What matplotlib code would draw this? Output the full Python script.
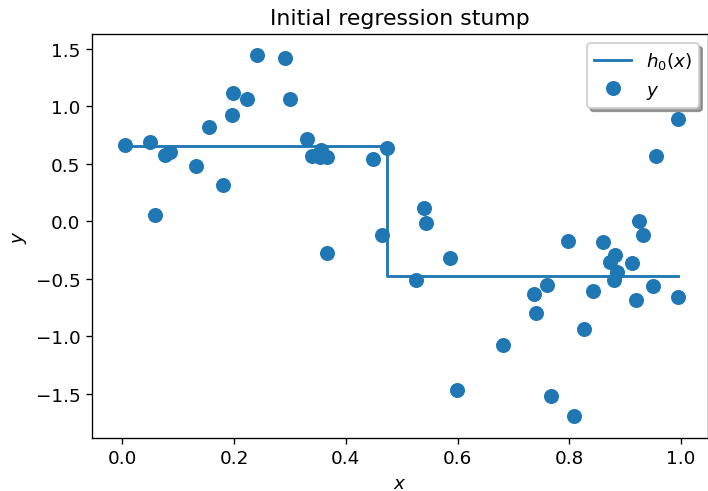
import matplotlib
matplotlib.use("Agg")
import matplotlib.pyplot as plt

# sample points
x = [0.005, 0.049, 0.058, 0.076, 0.086, 0.132, 0.156, 0.181, 0.196, 0.198,
     0.224, 0.241, 0.292, 0.301, 0.330, 0.340, 0.356, 0.354, 0.366, 0.367,
     0.449, 0.474, 0.465, 0.540, 0.543, 0.526, 0.587, 0.599, 0.681, 0.736,
     0.740, 0.760, 0.767, 0.798, 0.808, 0.827, 0.843, 0.861, 0.872, 0.882,
     0.879, 0.885, 0.912, 0.920, 0.925, 0.932, 0.950, 0.955, 0.994, 0.995]
y = [0.668, 0.689, 0.059, 0.578, 0.602, 0.483, 0.819, 0.320, 0.926, 1.115,
     1.065, 1.448, 1.424, 1.065, 0.717, 0.565, 0.624, 0.558, 0.558, -0.274,
     0.543, 0.639, -0.117, 0.117, -0.016, -0.506, -0.320, -1.471, -1.074, -0.633,
     -0.793, -0.555, -1.523, -0.170, -1.691, -0.935, -0.607, -0.181, -0.355, -0.291,
     -0.506, -0.437, -0.358, -0.683, 0.004, -0.117, -0.558, 0.572, 0.891, -0.659]

# stump: split point and the two leaf values
split = 0.474
left_val = 0.657
right_val = -0.474
stump_x = [min(x), split, split, max(x)]
stump_y = [left_val, left_val, right_val, right_val]

plt.rcParams["font.size"] = 11

fig = plt.figure(figsize=(5.9, 4.1), dpi=120)
ax = fig.add_axes([92/708, 1 - 438.5/492, 616/708, (438.5 - 35)/492])
ax.plot(stump_x, stump_y, color="C0", lw=1.7, label="$h_0(x)$")
ax.plot(x, y, "o", color="C0", ms=8, label="$y$")
ax.set_xlim(-0.054, 1.048)
ax.set_ylim(-1.88, 1.63)
ax.set_title("Initial regression stump")
ax.set_xlabel("$x$")
ax.set_ylabel("$y$")
ax.legend(loc="upper right", shadow=True)
fig.savefig("out.png", dpi=120)
